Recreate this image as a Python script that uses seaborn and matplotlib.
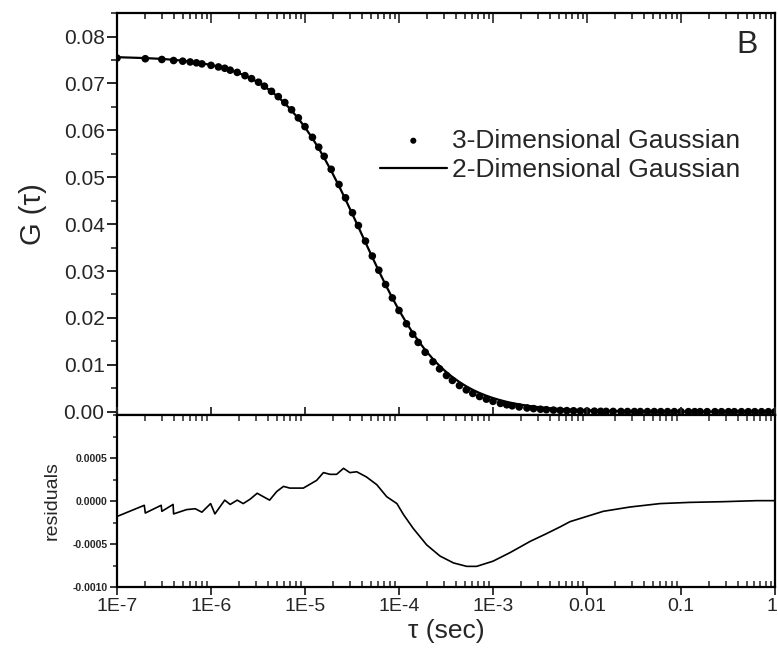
import numpy as np
import pandas as pd
import seaborn as sns
import matplotlib
matplotlib.use("Agg")
from matplotlib import pyplot as plt
from matplotlib import transforms
from matplotlib.ticker import FixedLocator, NullFormatter, MultipleLocator, FormatStrFormatter

# lag times (s) for the correlation curves
tau = [
    1e-7, 2e-7, 3e-7, 4e-7, 5e-7, 6e-7, 7e-7, 8e-7,
    1.0e-6, 1.2e-6, 1.4e-6, 1.6e-6, 1.9e-6, 2.3e-6, 2.7e-6, 3.2e-6, 3.7e-6, 4.4e-6, 5.2e-6, 6.1e-6, 7.2e-6, 8.5e-6,
    1.0e-5, 1.2e-5, 1.4e-5, 1.6e-5, 1.9e-5, 2.3e-5, 2.7e-5, 3.2e-5, 3.7e-5, 4.4e-5, 5.2e-5, 6.1e-5, 7.2e-5, 8.5e-5,
    1.0e-4, 1.2e-4, 1.4e-4, 1.6e-4, 1.9e-4, 2.3e-4, 2.7e-4, 3.2e-4, 3.7e-4, 4.4e-4, 5.2e-4, 6.1e-4, 7.2e-4, 8.5e-4,
    1.0e-3, 1.2e-3, 1.4e-3, 1.6e-3, 1.9e-3, 2.3e-3, 2.7e-3, 3.2e-3, 3.7e-3, 4.4e-3, 5.2e-3, 6.1e-3, 7.2e-3, 8.5e-3,
    1.0e-2, 1.2e-2, 1.4e-2, 1.6e-2, 1.9e-2, 2.3e-2, 2.7e-2, 3.2e-2, 3.7e-2, 4.4e-2, 5.2e-2, 6.1e-2, 7.2e-2, 8.5e-2,
    0.10, 0.12, 0.14, 0.16, 0.19, 0.23, 0.27, 0.32, 0.37, 0.44, 0.52, 0.61, 0.72, 0.85,
    1.0,
]

# 3-D Gaussian (points)
g_3d = [
    0.07543, 0.07528, 0.07512, 0.07490, 0.07476, 0.07459, 0.07441, 0.07418,
    0.07387, 0.07353, 0.07325, 0.07284, 0.07237, 0.07167, 0.07104, 0.07027, 0.06943, 0.06833, 0.06720, 0.06594, 0.06439, 0.06267,
    0.06080, 0.05852, 0.05642, 0.05447, 0.05170, 0.04846, 0.04562, 0.04244, 0.03971, 0.03639, 0.03320, 0.03018, 0.02713, 0.02427,
    0.02160, 0.01875, 0.01653, 0.01478, 0.01268, 0.01065, 0.00914, 0.00773, 0.00668, 0.00558, 0.00465, 0.00390, 0.00324, 0.00268,
    0.002215, 0.001775, 0.001476, 0.001259, 0.001013, 0.000796, 0.000657, 0.000526, 0.000431, 0.000343, 0.000279, 0.000234, 0.000199, 0.000165,
    0.000142, 0.000112, 0.000086, 0.000069, 0.000059, 0.000052, 0.000042, 0.000035, 0.000032, 0.000029, 0.000028, 0.000020, 0.000022, 0.000016,
    0.000015, 0.000012, 0.000011, 0.000010, 0.000009, 0.000008, 0.000007, 0.000006, 0.000006, 0.000005, 0.000005, 0.000004, 0.000004, 0.000004,
    0.000003,
]

# 2-D Gaussian (fit line)
g_2d = [
    0.07561, 0.07542, 0.07524, 0.07505, 0.07486, 0.07468, 0.07450, 0.07431,
    0.07395, 0.07359, 0.07324, 0.07288, 0.07236, 0.07168, 0.07101, 0.07019, 0.06938, 0.06829, 0.06708, 0.06577, 0.06424, 0.06252,
    0.06064, 0.05831, 0.05615, 0.05414, 0.05139, 0.04813, 0.04525, 0.04211, 0.03938, 0.03610, 0.03296, 0.03002, 0.02707, 0.02426,
    0.02166, 0.01895, 0.01684, 0.01516, 0.01318, 0.01123, 0.00978, 0.00842, 0.00740, 0.00632, 0.00541, 0.00466, 0.00399, 0.00341,
    0.002915, 0.002445, 0.002106, 0.001849, 0.001563, 0.001296, 0.001107, 0.000936, 0.000811, 0.000683, 0.000579, 0.000494, 0.000419, 0.000355,
    0.000302, 0.000252, 0.000216, 0.000189, 0.000159, 0.000132, 0.000112, 0.0000946, 0.0000819, 0.0000688, 0.0000583, 0.0000497, 0.0000421, 0.0000357,
    0.0000303, 0.0000253, 0.0000217, 0.0000190, 0.0000160, 0.0000132, 0.0000112, 0.0000095, 0.0000082, 0.0000069, 0.0000058, 0.0000050, 0.0000042, 0.0000036,
    0.0000030,
]

# residuals
tau_res = [
    1.0e-7, 1.95e-7, 2.0e-7, 2.95e-7, 3.0e-7, 3.95e-7, 4.0e-7, 5.5e-7, 6.8e-7, 8.0e-7,
    9.9e-7, 1.1e-6, 1.4e-6, 1.6e-6, 1.9e-6, 2.2e-6, 2.6e-6, 3.1e-6, 4.2e-6, 5.0e-6,
    5.9e-6, 6.9e-6, 9.6e-6, 1.33e-5, 1.57e-5, 1.85e-5, 2.17e-5, 2.57e-5, 3.0e-5, 3.55e-5,
    4.5e-5, 5.8e-5, 7.4e-5, 9.5e-5, 1.12e-4, 1.42e-4, 1.97e-4, 2.73e-4, 3.8e-4, 5.25e-4,
    6.7e-4, 1.0e-3, 1.52e-3, 2.48e-3, 3.7e-3, 5.2e-3, 6.6e-3, 1.49e-2, 2.86e-2, 6.0e-2,
    0.125, 0.28, 0.64, 1.0,
]
resid = [
    -0.00018, -0.00005, -0.00014, -0.00005, -0.00012, -0.00004, -0.00015, -0.00010, -0.00009, -0.00013,
    -0.00003, -0.00015, 0.00001, -0.00004, 0.00001, -0.00003, 0.00002, 0.00009, 0.00001, 0.00011,
    0.00017, 0.00015, 0.00015, 0.00024, 0.00033, 0.00031, 0.00031, 0.00038, 0.00033, 0.00034,
    0.00028, 0.00019, 0.00005, -0.00003, -0.00016, -0.00032, -0.00051, -0.00064, -0.00072, -0.00076,
    -0.00076, -0.00070, -0.00060, -0.00047, -0.00038, -0.00030, -0.00024, -0.00012, -0.00007, -0.00003,
    -0.000016, -0.000008, 0.000004, 0.000004,
]

x_ticks = [1e-7, 1e-6, 1e-5, 1e-4, 1e-3, 1e-2, 1e-1, 1]
x_labels = ["1E-7", "1E-6", "1E-5", "1E-4", "1E-3", "0.01", "0.1", "1"]
res_ticks = [-0.001, -0.0005, 0.0, 0.0005]

sns.set_theme(style="ticks")
plt.rcParams["font.family"] = ["Liberation Sans", "DejaVu Sans"]

df = pd.DataFrame({"tau": tau, "g3d": g_3d, "g2d": g_2d})
df_res = pd.DataFrame({"tau": tau_res, "resid": resid})

fig = plt.figure(figsize=(7.78, 6.58), dpi=100)
ax = fig.add_axes([0.1504, 0.3693, 0.8457, 0.6107])
axr = fig.add_axes([0.1504, 0.1079, 0.8457, 0.2614], sharex=ax)

sns.lineplot(data=df, x="tau", y="g2d", ax=ax, color="black", lw=1.6,
             estimator=None, label="2-Dimensional Gaussian", zorder=2)
sns.scatterplot(data=df, x="tau", y="g3d", ax=ax, color="black", s=30,
                edgecolor="none", label="3-Dimensional Gaussian", zorder=3)
sns.lineplot(data=df_res, x="tau", y="resid", ax=axr, color="black", lw=1.2,
             estimator=None)

ax.set_xscale("log")
ax.set_xlim(1e-7, 1)
ax.set_ylim(-0.0007, 0.085)
axr.set_ylim(-0.001, 0.001)

for a in (ax, axr):
    for s in a.spines.values():
        s.set_linewidth(1.6)
        s.set_color("black")

# top panel
ax.yaxis.set_major_locator(MultipleLocator(0.01))
ax.yaxis.set_minor_locator(MultipleLocator(0.005))
ax.yaxis.set_major_formatter(FormatStrFormatter("%.2f"))
ax.tick_params(axis="y", which="major", direction="out", length=7, width=1.4,
               labelsize=15, pad=2)
ax.tick_params(axis="y", which="minor", direction="out", length=4, width=1.2)
ax.tick_params(axis="x", which="both", bottom=False, labelbottom=False, top=True,
               direction="in", width=1.2)
ax.tick_params(axis="x", which="major", length=7)
ax.tick_params(axis="x", which="minor", length=4)
ax.set_xlabel("")
ax.set_ylabel("G (τ)", fontsize=21, labelpad=12)

# residual panel
axr.yaxis.set_major_locator(FixedLocator(res_ticks))
axr.yaxis.set_minor_locator(MultipleLocator(0.00025))
axr.yaxis.set_major_formatter(FormatStrFormatter("%.4f"))
axr.tick_params(axis="y", which="major", direction="out", length=5, width=1.3,
                labelsize=7.5, pad=2)
axr.tick_params(axis="y", which="minor", direction="out", length=3, width=1.1)
axr.set_xticks(x_ticks)
axr.set_xticklabels(x_labels)
axr.tick_params(axis="x", which="major", direction="out", length=6, width=1.3,
                labelsize=14, top=True, pad=2)
axr.tick_params(axis="x", which="minor", direction="in", length=4, width=1.1, top=True)
axr.xaxis.set_minor_formatter(NullFormatter())
for lab in axr.get_yticklabels():
    lab.set_fontweight("semibold")
axr.set_ylabel("residuals", fontsize=14, labelpad=8)
axr.set_xlabel("τ (sec)", fontsize=19, labelpad=3)

# keep the last tick label inside the canvas
last = axr.get_xticklabels()[-1]
last.set_transform(last.get_transform() + transforms.ScaledTranslation(-3 / 100, 0, fig.dpi_scale_trans))

handles, labels = ax.get_legend_handles_labels()
order = [labels.index("3-Dimensional Gaussian"), labels.index("2-Dimensional Gaussian")]
leg = ax.legend([handles[i] for i in order], [labels[i] for i in order],
                loc="center left", bbox_to_anchor=(0.488, 0.764),
                bbox_transform=fig.transFigure, frameon=False, fontsize=19,
                handlelength=2.55, handletextpad=0.2, labelspacing=0.2,
                borderpad=0, borderaxespad=0, markerscale=0.8)

fig.text(758 / 778, 1 - 45 / 658, "B", ha="right", va="center", fontsize=23)

plt.savefig("out.png", dpi=100)
